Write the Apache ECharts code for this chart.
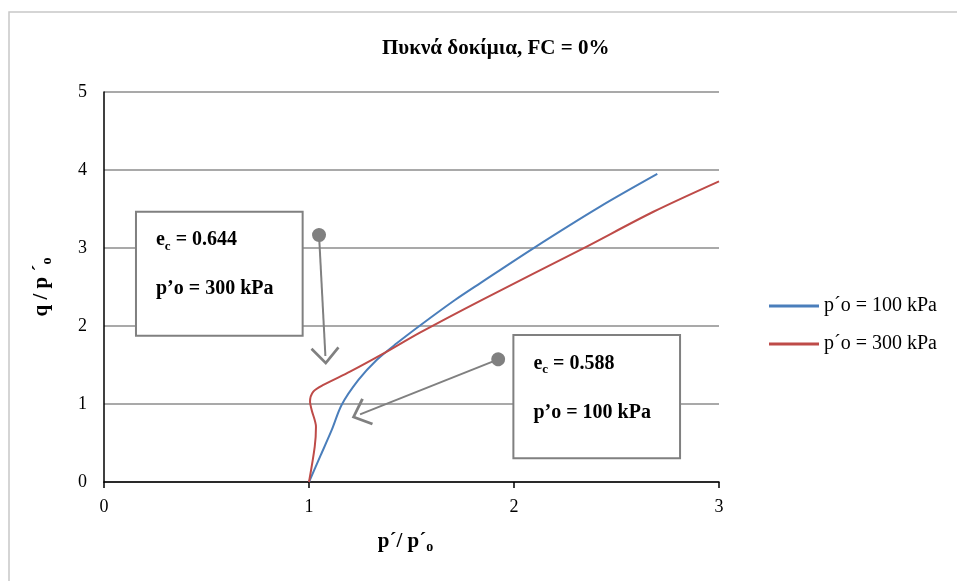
<!DOCTYPE html>
<html>
<head>
<meta charset="utf-8">
<script src="https://cdn.jsdelivr.net/npm/echarts@6/dist/echarts.min.js"></script>
<style>
 html, body { margin: 0; padding: 0; background: #fff; }
 #main { width: 957px; height: 581px; }
</style>
</head>
<body>
<div id="main"></div>
<script>
// p'/p'o and q/p'o
var blueP = [1.0, 1.054, 1.111, 1.159, 1.241, 1.33, 1.428, 1.545, 1.712, 1.834, 2.094, 2.42, 2.699];
var blueQ = [0, 0.325, 0.667, 0.987, 1.308, 1.564, 1.778, 2.013, 2.333, 2.547, 2.996, 3.53, 3.949];
var redP = [1.0, 1.028, 1.034, 1.013, 1.005, 1.021, 1.07, 1.2, 1.362, 1.541, 1.842, 2.338, 2.68, 3.0];
var redQ = [0, 0.453, 0.709, 0.923, 1.03, 1.158, 1.244, 1.414, 1.645, 1.915, 2.333, 2.996, 3.465, 3.855];
var seriesNames = ['p´o = 100 kPa', 'p´o = 300 kPa'];
var yTicks = [0, 1, 2, 3, 4, 5];
var xTicks = [0, 1, 2, 3];

// annotation boxes [x1, y1, x2, y2] and arrows [dotX, dotY, endX, endY] in data units
var box300 = [0.156, 3.465, 0.969, 1.876];
var box100 = [1.997, 1.885, 2.81, 0.304];
var arrow300 = [1.049, 3.167, 1.080, 1.615];
var arrow100 = [1.923, 1.573, 1.249, 0.867];

function zip(a, b) {
 return a.map(function(v, i) { return [v, b[i]]; });
}

var serif = 'Liberation Serif';
var chevron = 'path://M14.5,0 L29,16 L27,18 L14.5,4 L2,18 L0,16 Z';

var boxRich = {
 b: { fontFamily: serif, fontSize: 20, fontWeight: 'bold', color: '#000', lineHeight: 25 },
 s: { fontFamily: serif, fontSize: 13, fontWeight: 'bold', color: '#000', verticalAlign: 'bottom', lineHeight: 21 },
 g: { fontSize: 20, lineHeight: 24 }
};
var nameRich = {
 b: { fontFamily: serif, fontSize: 21, fontWeight: 'bold', color: '#000' },
 s: { fontFamily: serif, fontSize: 14, fontWeight: 'bold', color: '#000', verticalAlign: 'bottom', lineHeight: 24 }
};

function boxItem(b, ec, po) {
 return [{
 coord: [b[0], b[1]],
 label: { formatter: '{b|e}{s|c}{b| = ' + ec + '}\n{g| }\n{b|p’o = ' + po + ' kPa}' }
 }, { coord: [b[2], b[3]] }];
}

function arrowItem(a) {
 return [
 { coord: [a[0], a[1]], symbol: 'circle', symbolSize: 14 },
 { coord: [a[2], a[3]], symbol: chevron, symbolSize: [29, 18] }
 ];
}

var myChart = echarts.init(document.getElementById('main'));

myChart.setOption({
 backgroundColor: '#fff',
 animation: false,
 title: {
 text: 'Πυκνά δοκίμια, FC = 0%',
 left: 377,
 top: 33,
 textStyle: { fontFamily: serif, fontSize: 21, fontWeight: 'bold', color: '#000' }
 },
 graphic: [{
 type: 'rect',
 shape: { x: 9, y: 12, width: 960, height: 600 },
 style: { fill: 'none', stroke: '#c8c8c8', lineWidth: 1.5 },
 silent: true
 }],
 legend: {
 orient: 'vertical',
 left: 764,
 top: 291,
 itemGap: 18,
 icon: 'rect',
 itemWidth: 50,
 itemHeight: 3,
 data: seriesNames,
 textStyle: { fontFamily: serif, fontSize: 20, color: '#000' }
 },
 grid: {
 left: 104,
 right: 238,
 top: 92,
 bottom: 99
 },
 xAxis: {
 type: 'value',
 min: xTicks[0],
 max: xTicks[xTicks.length - 1],
 interval: 1,
 name: '{b|p´/ p´}{s|o}',
 nameLocation: 'middle',
 nameGap: 48,
 nameTextStyle: { rich: nameRich, padding: [0, 12, 0, 0] },
 axisLine: { show: true, lineStyle: { color: '#000', width: 1.5 } },
 axisTick: { show: true, length: 6, lineStyle: { color: '#000', width: 1.5 } },
 axisLabel: { fontFamily: serif, fontSize: 18, color: '#000', margin: 16 },
 splitLine: { show: false }
 },
 yAxis: {
 type: 'value',
 min: yTicks[0],
 max: yTicks[yTicks.length - 1],
 interval: 1,
 name: '{b|q / p ´}{s|o}',
 nameLocation: 'middle',
 nameRotate: 90,
 nameGap: 50,
 nameTextStyle: { rich: nameRich },
 axisLine: { show: true, lineStyle: { color: '#000', width: 1.5 } },
 axisTick: { show: false },
 axisLabel: { fontFamily: serif, fontSize: 18, color: '#000', margin: 17 },
 splitLine: { show: true, lineStyle: { color: '#8c8c8c', width: 1.5 } }
 },
 series: [{
 name: seriesNames[0],
 type: 'line',
 data: zip(blueP, blueQ),
 showSymbol: false,
 smooth: 0.3,
 z: 3,
 lineStyle: { color: '#4a7ebb', width: 2 },
 itemStyle: { color: '#4a7ebb' },
 markArea: {
 silent: true,
 itemStyle: { color: '#fff', borderColor: '#808080', borderWidth: 2 },
 label: {
 show: true,
 position: 'insideTopLeft',
 distance: 0,
 padding: [17, 0, 0, 21],
 rich: boxRich
 },
 data: [boxItem(box300, '0.644', 300), boxItem(box100, '0.588', 100)]
 },
 markLine: {
 silent: true,
 animation: false,
 label: { show: false },
 lineStyle: { color: '#808080', width: 2, type: 'solid' },
 itemStyle: { color: '#808080' },
 emphasis: { disabled: true },
 data: [arrowItem(arrow300), arrowItem(arrow100)]
 }
 }, {
 name: seriesNames[1],
 type: 'line',
 data: zip(redP, redQ),
 showSymbol: false,
 smooth: 0.3,
 z: 3,
 lineStyle: { color: '#be4b48', width: 2 },
 itemStyle: { color: '#be4b48' }
 }]
});
window.onresize = myChart.resize;
</script>
</body>
</html>
